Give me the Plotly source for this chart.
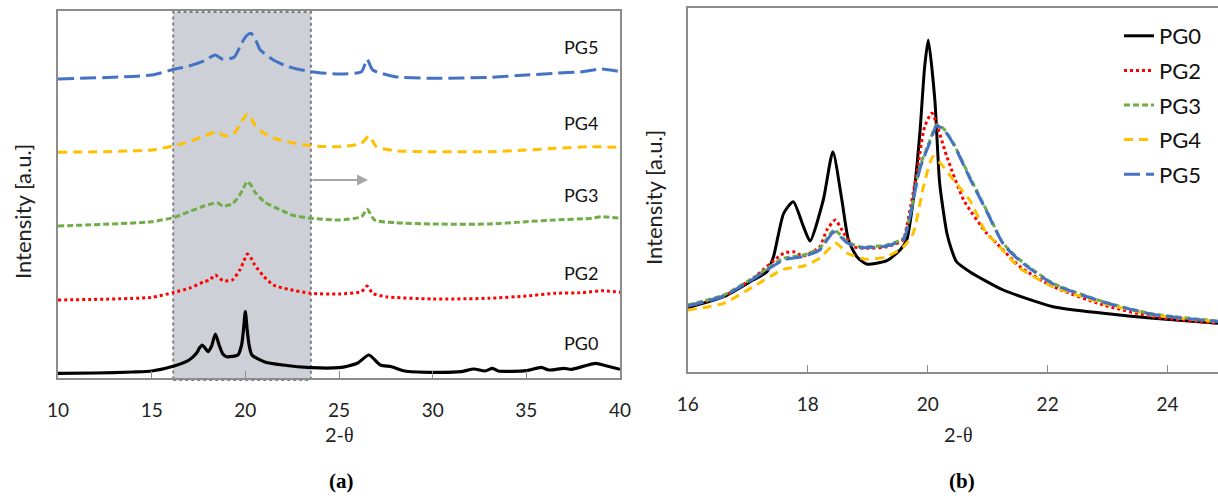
import plotly.graph_objects as go

W, H = 1218, 496

# ---------------- Panel (a) data (stacked, a.u.) ----------------
a_x_pg0 = [10, 12, 14, 15, 16.2, 17, 17.4, 17.55, 17.7, 17.85, 18.0, 18.2, 18.4, 18.6, 18.8,
           19.0, 19.6, 19.8, 19.9, 20.0, 20.1, 20.2, 20.35, 21, 22, 23.5, 25, 25.5, 26, 26.6,
           27.2, 27.8, 28.5, 30, 31.5, 32.2, 32.8, 33.2, 33.5, 35, 35.8, 36.2, 37, 37.4, 38.7, 39.3, 40]
a_y_pg0 = [4.7, 5, 6, 7, 12, 18, 25, 30, 33, 30, 26.3, 32, 44, 33, 24,
           21.3, 23, 33, 48, 66.3, 48, 33, 23, 16.3, 13, 10.3, 10.3, 12, 15, 23,
           13, 11.3, 7, 5.7, 6.3, 9, 7, 9.7, 7, 7.3, 10.7, 8, 9.7, 8.7, 14.7, 12, 8.7]

a_x_pg2 = [10, 15, 16.2, 17, 17.8, 18.1, 18.4, 18.8, 19.3, 19.7, 19.9, 20.1, 20.3, 20.5, 21,
           21.5, 22.3, 23.5, 25, 26.2, 26.5, 26.8, 27.5, 30, 33, 35, 36.5, 38, 39, 40]
a_y_pg2 = [78, 80.7, 85.7, 89.7, 96.3, 98, 103, 97.3, 98, 108, 116, 124, 120, 113, 101.3,
           93, 88.7, 84.7, 84, 86.3, 92, 84.7, 81.3, 79, 79.7, 82, 84.7, 85.3, 87.3, 85.7]

a_x_pg3 = [10, 15, 16.2, 17, 17.8, 18.5, 18.8, 19.3, 19.7, 19.9, 20.1, 20.3, 20.5, 21, 21.8,
           22.5, 23.5, 25, 26.2, 26.5, 26.9, 28, 30, 33, 35, 36.5, 38.5, 39, 40]
a_y_pg3 = [152, 156.3, 160.7, 166.3, 172, 175.3, 172, 174, 183, 190, 196.3, 193, 186.3, 176.3, 168.7,
           163, 159.7, 158, 161.3, 168.7, 158, 155.3, 154, 154, 156.3, 158, 159.7, 161.3, 159.7]

a_x_pg4 = [10, 15, 16.2, 17, 17.8, 18.5, 18.9, 19.4, 19.8, 20.1, 20.3, 20.5, 21, 21.8, 23.5,
           25, 26.2, 26.6, 27, 28, 30, 33, 35, 36.5, 38.5, 40]
a_y_pg4 = [225.7, 228, 232.3, 236.3, 242, 246.3, 242, 244.7, 256.3, 264, 260, 253, 244.7, 238, 232.3,
           231.3, 234.7, 242, 231.3, 227.3, 226.3, 226.3, 228, 229.7, 231.3, 230.7]

a_x_pg5 = [10, 15, 16.2, 17, 17.8, 18.4, 18.8, 19.4, 19.8, 20.05, 20.3, 20.55, 20.8, 21.5, 22.3,
           23.5, 25, 26.2, 26.5, 26.8, 28, 30, 33, 35, 36.5, 38, 39, 40]
a_y_pg5 = [299, 303, 308.7, 312, 317.3, 323, 318.7, 320.7, 334.7, 342, 344.7, 338, 328, 318, 311.3,
           306.3, 304, 306.3, 318.7, 308, 301.3, 299.7, 300.7, 303, 304.7, 306.3, 309, 306.3]

# ---------------- Panel (b) data (a.u.) ----------------
b_x_pg0 = [16, 16.6, 17.09, 17.32, 17.43, 17.6, 17.76, 17.93, 18.04, 18.26, 18.42, 18.57, 18.68,
           18.82, 18.98, 19.32, 19.54, 19.65, 19.76, 19.87, 19.95, 20.01, 20.12, 20.2, 20.32, 20.4,
           20.48, 20.7, 21.26, 22.09, 22.93, 23.76, 24.84]
b_y_pg0 = [64.3, 75.3, 92, 100.3, 115.3, 158.7, 170.3, 145.3, 131, 172, 220.3, 172, 132,
           115.3, 108, 111.3, 122, 132, 172, 239, 305.3, 332, 272, 189, 139, 122,
           110.3, 100.3, 82, 65.3, 58.7, 53.7, 48.7]

b_x_pg2 = [16, 16.6, 17.09, 17.6, 17.76, 17.93, 18.2, 18.32, 18.46, 18.6, 18.76, 18.98, 19.32,
           19.59, 19.65, 19.82, 19.95, 20.07, 20.32, 20.6, 20.98, 21.15, 21.54, 22.09, 22.93, 23.76, 24.84]
b_y_pg2 = [66, 76, 94, 118.7, 120.3, 116, 125.3, 142, 152, 139, 125.3, 123.7, 125.3,
           132, 145.3, 199, 245.3, 258.7, 215.3, 172, 139, 128.7, 105.3, 85.3, 67, 55.3, 48.7]

b_x_pg3 = [16, 16.6, 17.09, 17.6, 17.93, 18.2, 18.44, 18.66, 18.87, 19.32, 19.6, 19.7, 19.87,
           20.04, 20.15, 20.26, 20.43, 20.7, 20.98, 21.26, 21.54, 22.09, 22.93, 23.76, 24.84]
b_y_pg3 = [67, 77, 94, 113.7, 117, 123.7, 142, 130.3, 125.3, 127, 134, 155.3, 205.3,
           232, 247, 243.7, 228.7, 195.3, 162, 128.7, 112, 88.7, 70.3, 58, 51]

b_x_pg4 = [16, 16.6, 17.09, 17.6, 17.93, 18.2, 18.47, 18.66, 18.98, 19.32, 19.6, 19.76, 19.93,
           20.09, 20.26, 20.43, 20.7, 20.98, 21.15, 21.54, 22.09, 22.93, 23.76, 24.84]
b_y_pg4 = [62, 68.7, 85.3, 102.7, 106, 113.7, 128.7, 118.7, 112.7, 115.3, 125.3, 139, 185.3,
           215.3, 205.3, 192, 172, 138.7, 128.7, 103.7, 85.3, 68.7, 57, 50.3]

b_x_pg5 = [16, 16.6, 17.09, 17.6, 17.93, 18.2, 18.44, 18.66, 18.87, 19.32, 19.6, 19.7, 19.87,
           20.04, 20.15, 20.26, 20.43, 20.7, 20.98, 21.26, 21.54, 22.09, 22.93, 23.76, 24.84]
b_y_pg5 = [66, 76, 93, 112, 115.5, 122, 140, 129, 124.5, 126, 133, 154, 203,
           230, 246, 243, 228, 194, 161, 128, 111, 88, 70, 57.5, 50.5]

names = ["PG0", "PG2", "PG3", "PG4", "PG5"]
a_x = [a_x_pg0, a_x_pg2, a_x_pg3, a_x_pg4, a_x_pg5]
a_y = [a_y_pg0, a_y_pg2, a_y_pg3, a_y_pg4, a_y_pg5]
b_x = [b_x_pg0, b_x_pg2, b_x_pg3, b_x_pg4, b_x_pg5]
b_y = [b_y_pg0, b_y_pg2, b_y_pg3, b_y_pg4, b_y_pg5]

# label positions in panel (a)
a_label_x = [37.9, 37.9, 37.9, 37.9, 37.9]
a_label_y = [35, 105, 183, 255, 331]

colors = ["#000000", "#FF0000", "#70AD47", "#FFC000", "#4472C4"]
dashes = ["solid", "3px,3px", "6px,3px", "9px,6px", "16px,6px"]
widths_a = [3.2, 3, 3, 3, 3]
widths_b = [3, 3, 3, 3, 3]

FONT = "Lato"

fig = go.Figure()

for i, n in enumerate(names):
    fig.add_trace(go.Scatter(
        x=a_x[i], y=a_y[i], mode="lines", name=n, showlegend=False,
        line=dict(color=colors[i], width=widths_a[i], dash=dashes[i], shape="spline", smoothing=0.6),
        xaxis="x", yaxis="y"))

for i, n in enumerate(names):
    fig.add_trace(go.Scatter(
        x=b_x[i], y=b_y[i], mode="lines", name=n, showlegend=True, legendgroup=n,
        line=dict(color=colors[i], width=widths_b[i], dash=dashes[i], shape="spline", smoothing=0.6),
        xaxis="x2", yaxis="y2"))

def px2x(p):
    return p / W

def py2y(p):
    return 1 - p / H

axis_common = dict(showgrid=False, zeroline=False, showline=True, linecolor="#8C8C8C",
                   linewidth=1.5, mirror=True, tickcolor="#8C8C8C", tickwidth=1.2,
                   automargin=False)
xaxis_extra = dict(ticks="inside", ticklen=7, ticklabelstandoff=14,
                   tickfont=dict(family=FONT, size=19, color="#222222"))

fig.update_layout(
    width=W, height=H,
    margin=dict(l=0, r=0, t=0, b=0, autoexpand=False),
    paper_bgcolor="white", plot_bgcolor="white",
    xaxis=dict(domain=[px2x(58), px2x(620)], range=[10, 40], tickvals=[10, 15, 20, 25, 30, 35, 40],
               anchor="y", **axis_common, **xaxis_extra),
    yaxis=dict(domain=[py2y(378), py2y(11)], range=[0, 367], showticklabels=False, ticks="",
               anchor="x", **axis_common),
    xaxis2=dict(domain=[px2x(687.7), 1.0], range=[16, 24.84], tickvals=[16, 18, 20, 22, 24],
                anchor="y2", **axis_common, **xaxis_extra),
    yaxis2=dict(domain=[py2y(372), py2y(8)], range=[0, 364], showticklabels=False, ticks="",
                anchor="x2", **axis_common),
    legend=dict(x=px2x(1119), y=py2y(15), xanchor="left", yanchor="top",
                bgcolor="rgba(0,0,0,0)", borderwidth=0, tracegroupgap=3,
                font=dict(family=FONT, size=22, color="#111111")),
    showlegend=True,
)

# shaded region in panel (a)
fig.add_shape(type="rect", xref="x", yref="paper", x0=16.15, x1=23.5,
              y0=py2y(380), y1=py2y(12), fillcolor="#CDD0D6",
              line=dict(color="#7F7F7F", width=2, dash="dot"), layer="below")

# arrow in panel (a)
fig.add_annotation(x=26.55, y=198, ax=23.5, ay=198, xref="x", yref="y", axref="x", ayref="y",
                   showarrow=True, arrowhead=2, arrowsize=1, arrowwidth=2.2, arrowcolor="#A6A6A6",
                   text="")

# series labels in panel (a)
for i, n in enumerate(names):
    fig.add_annotation(x=a_label_x[i], y=a_label_y[i], xref="x", yref="y", text=n,
                       xanchor="center", yanchor="middle",
                       showarrow=False, font=dict(family=FONT, size=18, color="#111111"))

def paper_text(x, y, text, size, family=FONT, color="#222222", angle=0):
    fig.add_annotation(x=px2x(x), y=py2y(y), xref="paper", yref="paper", text=text,
                       xanchor="center", yanchor="middle", textangle=angle,
                       showarrow=False, font=dict(family=family, size=size, color=color))

# axis titles
theta = '2-<span style="font-family:Liberation Serif">θ</span>'
paper_text(339, 434, theta, 20)
paper_text(958, 434, theta, 20)
paper_text(22, 212, "Intensity [a.u.]", 22, angle=-90)
paper_text(653, 198, "Intensity [a.u.]", 22, angle=-90)

# panel letters
paper_text(341, 481, "<b>(a)</b>", 21, family="Liberation Serif", color="#000000")
paper_text(962, 481, "<b>(b)</b>", 21, family="Liberation Serif", color="#000000")

fig.write_html("out.html")
